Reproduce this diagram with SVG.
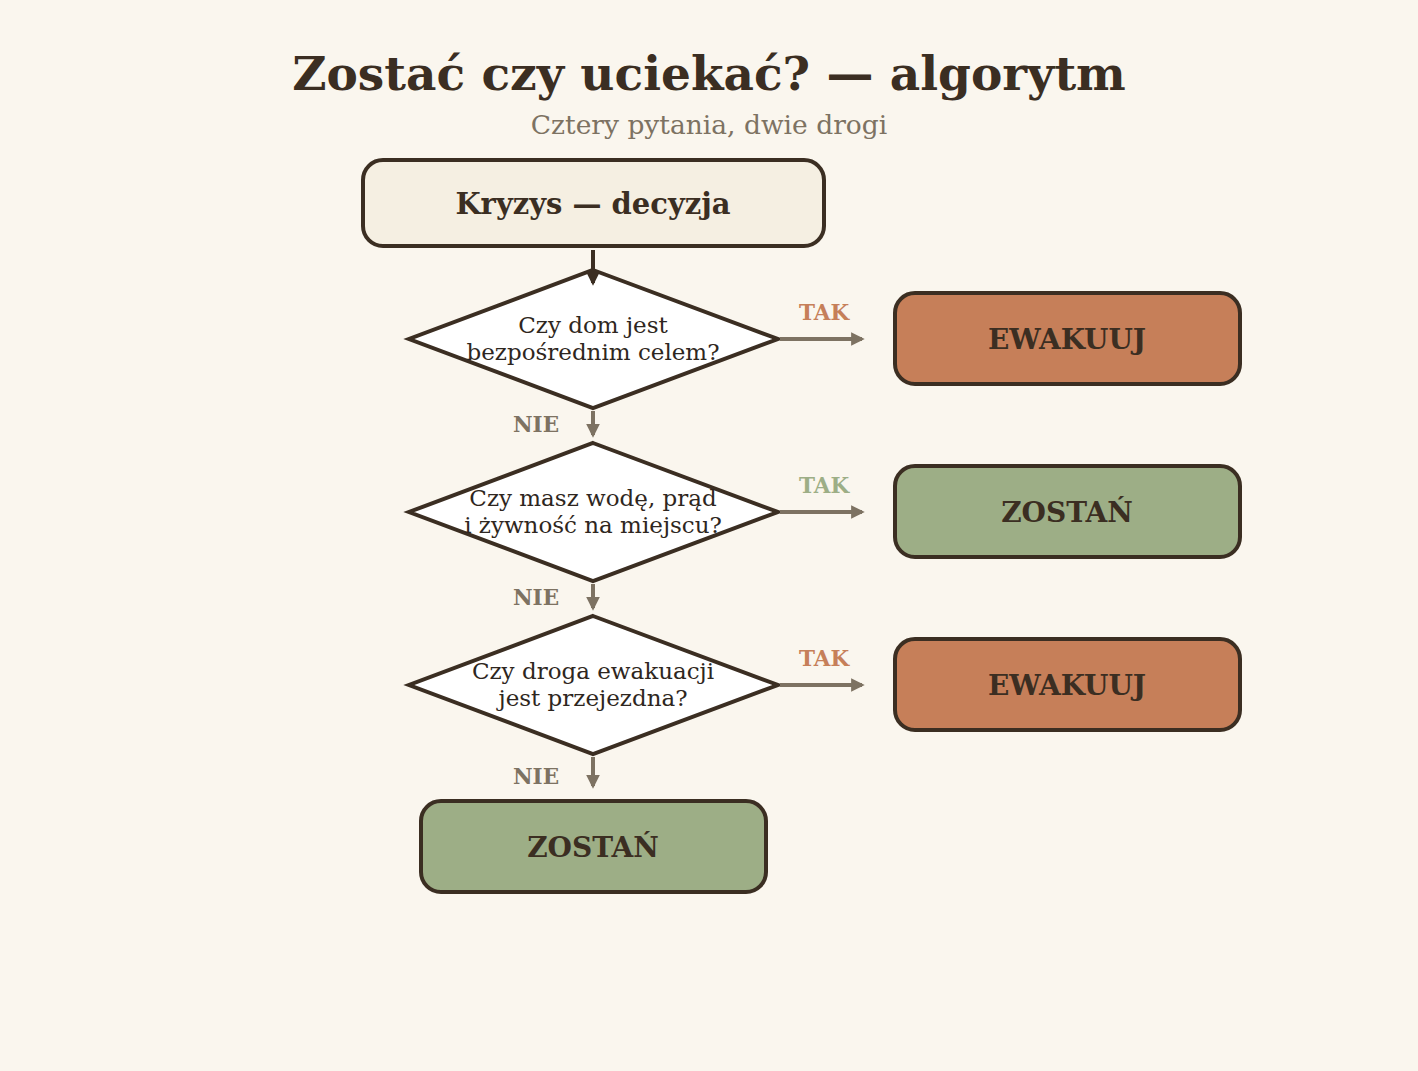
<svg xmlns="http://www.w3.org/2000/svg" width="1418" height="1071" viewBox="0 0 1418 1071">
<style>
.t{font-family:"DejaVu Serif","Liberation Serif",serif;text-anchor:middle}
.title{font-size:47px;font-weight:bold;fill:#3b2e22}
.sub{font-size:26.5px;fill:#7d7262}
.box{stroke:#3b2e22;stroke-width:4}
.blab{font-size:28px;font-weight:bold;fill:#3b2e22}
.dia{fill:#ffffff;stroke:#3b2e22;stroke-width:4;stroke-linejoin:miter}
.q{font-size:23px;fill:#2e2620}
.lab{font-size:21.5px;font-weight:bold}
.c{stroke:#7d7262;stroke-width:4;fill:none}
</style>
<defs>
<marker id="ag" viewBox="0 0 10 10" refX="8" refY="5" markerWidth="3.4" markerHeight="3.4" orient="auto"><path d="M0,0 L10,5 L0,10 z" fill="#7d7262"/></marker>
<marker id="ad" viewBox="0 0 10 10" refX="8" refY="5" markerWidth="3.4" markerHeight="3.4" orient="auto"><path d="M0,0 L10,5 L0,10 z" fill="#3b2e22"/></marker>
</defs>
<rect width="1418" height="1071" fill="#faf6ee"/>
<text class="t title" x="709" y="90">Zostać czy uciekać? — algorytm</text>
<text class="t sub" x="709" y="134">Cztery pytania, dwie drogi</text>

<g id="start">
<rect class="box" x="363" y="160" width="461" height="86" rx="20" fill="#f5efe2"/>
<text class="t blab" x="593" y="214" style="font-size:29px">Kryzys — decyzja</text>
</g>
<g id="q1">
<polygon class="dia" points="593,270 778,339 593,408 409,339"/>
<text class="t q" x="593" y="333">Czy dom jest</text>
<text class="t q" x="593" y="360">bezpośrednim celem?</text>
</g>
<g id="q2">
<polygon class="dia" points="593,443 778,512 593,581 409,512"/>
<text class="t q" x="593" y="506">Czy masz wodę, prąd</text>
<text class="t q" x="593" y="533">i żywność na miejscu?</text>
</g>
<g id="q3">
<polygon class="dia" points="593,616 778,685 593,754 409,685"/>
<text class="t q" x="593" y="679">Czy droga ewakuacji</text>
<text class="t q" x="593" y="706">jest przejezdna?</text>
</g>
<g id="ewak1">
<rect class="box" x="895" y="293" width="345" height="91" rx="20" fill="#c67f59"/>
<text class="t blab" x="1067" y="349">EWAKUUJ</text>
</g>
<g id="zostan1">
<rect class="box" x="895" y="466" width="345" height="91" rx="20" fill="#9dae86"/>
<text class="t blab" x="1067" y="522">ZOSTAŃ</text>
</g>
<g id="ewak2">
<rect class="box" x="895" y="639" width="345" height="91" rx="20" fill="#c67f59"/>
<text class="t blab" x="1067" y="695">EWAKUUJ</text>
</g>
<g id="zostan2">
<rect class="box" x="421" y="801" width="345" height="91" rx="20" fill="#9dae86"/>
<text class="t blab" x="593" y="857">ZOSTAŃ</text>
</g>

<g id="connectors">
<line x1="593" y1="250" x2="593" y2="283" stroke="#3b2e22" stroke-width="4" marker-end="url(#ad)"/>
<line class="c" x1="780" y1="339" x2="862" y2="339" marker-end="url(#ag)"/>
<line class="c" x1="593" y1="411" x2="593" y2="435" marker-end="url(#ag)"/>
<line class="c" x1="780" y1="512" x2="862" y2="512" marker-end="url(#ag)"/>
<line class="c" x1="593" y1="584" x2="593" y2="608" marker-end="url(#ag)"/>
<line class="c" x1="780" y1="685" x2="862" y2="685" marker-end="url(#ag)"/>
<line class="c" x1="593" y1="757" x2="593" y2="786" marker-end="url(#ag)"/>
<text class="t lab" x="824" y="320" fill="#c67f59">TAK</text>
<text class="t lab" x="824" y="493" fill="#9dae86">TAK</text>
<text class="t lab" x="824" y="666" fill="#c67f59">TAK</text>
<text class="t lab" x="536" y="432" fill="#7d7262">NIE</text>
<text class="t lab" x="536" y="605" fill="#7d7262">NIE</text>
<text class="t lab" x="536" y="784" fill="#7d7262">NIE</text>
</g>
</svg>
